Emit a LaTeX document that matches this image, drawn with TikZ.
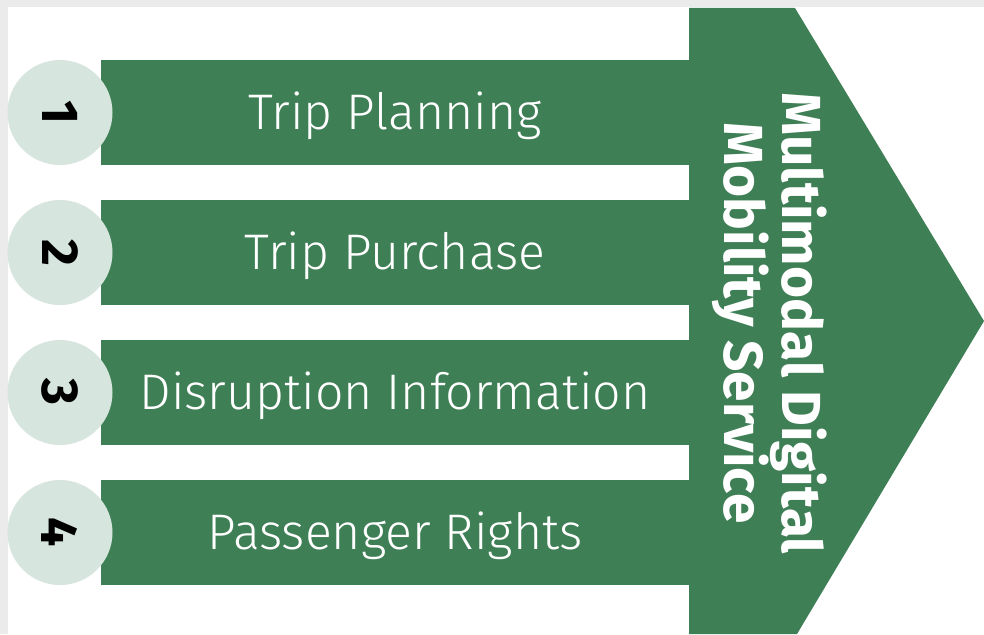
\documentclass[tikz,border=0pt]{standalone}
\usepackage{fontspec}
\setmainfont{Fira Sans}[UprightFont=* Light, BoldFont=* Bold]
\definecolor{mdgreen}{HTML}{3F7F55}
\definecolor{mdcircle}{HTML}{D6E5DD}
\definecolor{mdframe}{HTML}{EBEBEB}
\tikzset{
  bar/.style={fill=mdgreen, minimum width=588pt, minimum height=105pt, inner sep=0pt,
    text=white, text height=34.5pt, text depth=0pt, font=\fontsize{50}{60}\selectfont},
  num/.style={circle, fill=mdcircle, minimum size=105pt, inner sep=0pt,
    font=\fontsize{52}{60}\selectfont\bfseries, rotate=-90}
}
\begin{document}
\begin{tikzpicture}[x=1pt, y=-1pt]
\useasboundingbox (0,0) rectangle (984,634);
\fill[mdframe] (0,0) rectangle (984,634);
\fill[white] (8,7) rectangle (984,634);

\node[bar] (planning) at (395,112.5){Trip Planning};
\node[bar] (purchase) at (395,252.5){Trip Purchase};
\node[bar] (disruption) at (395,392.5){Disruption Information};
\node[bar] (rights) at (395,532.5){Passenger Rights};

\fill[mdgreen] (689,8) -- (795,8) -- (984,321) -- (797,634) -- (689,634) -- cycle;
\node[rotate=-90, align=center, text=white, font=\fontsize{55}{56}\selectfont\bfseries] (service) at (770,323){Multimodal Digital\\Mobility Service};

\node[num] (one) at (60,112.5){1};
\node[num] (two) at (60,252.5){2};
\node[num] (three) at (60,392.5){3};
\node[num] (four) at (60,532.5){4};

\end{tikzpicture}
\end{document}
